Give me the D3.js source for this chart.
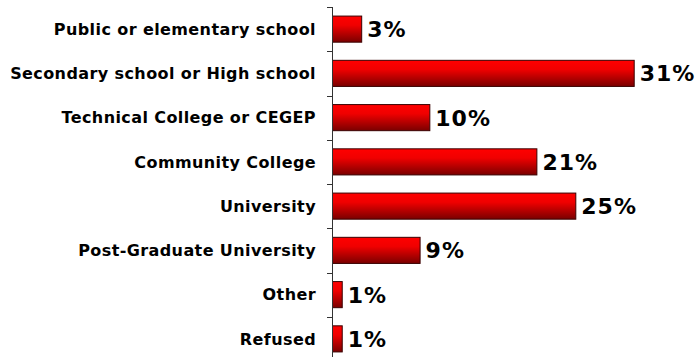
<!DOCTYPE html>
<html><head><meta charset="utf-8">
<script src="https://cdn.jsdelivr.net/npm/d3@7"></script>
<style>html,body{margin:0;padding:0;background:#fff;}svg{display:block;}</style>
</head><body>
<svg id="c" width="698" height="357"></svg>
<script>
const categories = ["Public or elementary school","Secondary school or High school","Technical College or CEGEP","Community College","University","Post-Graduate University","Other","Refused"];
const values = [3,31,10,21,25,9,1,1];
const valueLabels = ["3%","31%","10%","21%","25%","9%","1%","1%"];

const svg = d3.select("#c");
const x0 = 332;
const x = d3.scaleLinear().domain([0,31]).range([x0, x0+301.7]);
const y = d3.scaleBand().domain(categories).range([7,361]).paddingInner(0.41).paddingOuter(0.205);

const defs = svg.append("defs");
const g = defs.append("linearGradient").attr("id","grad").attr("x1",0).attr("y1",0).attr("x2",0).attr("y2",1);
g.append("stop").attr("offset","0%").attr("stop-color","#ff0000");
g.append("stop").attr("offset","35%").attr("stop-color","#f00000");
g.append("stop").attr("offset","100%").attr("stop-color","#7a0000");

svg.selectAll("rect.bar").data(categories).enter().append("rect")
  .attr("class","bar")
  .attr("x", x0+0.5)
  .attr("y", d=>y(d))
  .attr("width", (d,i)=>x(values[i])-x0)
  .attr("height", y.bandwidth())
  .attr("fill","url(#grad)")
  .attr("stroke","#3a0000").attr("stroke-width",1);

const step = y.step();
svg.append("line").attr("x1",x0+0.5).attr("x2",x0+0.5).attr("y1",7).attr("y2",361).attr("stroke","#333").attr("stroke-width",1);
const tickYs = d3.range(categories.length+1).map(i=>7+i*step);
svg.selectAll("line.tick").data(tickYs).enter().append("line").attr("class","tick")
  .attr("x1",x0-5).attr("x2",x0+0.5).attr("y1",d=>Math.round(d)+0.5).attr("y2",d=>Math.round(d)+0.5)
  .attr("stroke","#333").attr("stroke-width",1);

svg.selectAll("text.cat").data(categories).enter().append("text")
  .attr("class","cat")
  .attr("x",316).attr("y",d=>y(d)+y.bandwidth()/2)
  .attr("dy","0.36em")
  .attr("text-anchor","end")
  .attr("font-family","DejaVu Sans, Verdana, sans-serif")
  .attr("font-weight","bold").attr("font-size","16px").attr("letter-spacing","0.4px").attr("fill","#000")
  .text(d=>d);

svg.selectAll("text.val").data(categories).enter().append("text")
  .attr("class","val")
  .attr("x",(d,i)=>x(values[i])+6).attr("y",d=>y(d)+y.bandwidth()/2)
  .attr("dy","0.36em")
  .attr("font-family","DejaVu Sans, Verdana, sans-serif")
  .attr("font-weight","bold").attr("font-size","22px").attr("letter-spacing","1px").attr("fill","#000")
  .text((d,i)=>valueLabels[i]);
</script>
</body></html>
